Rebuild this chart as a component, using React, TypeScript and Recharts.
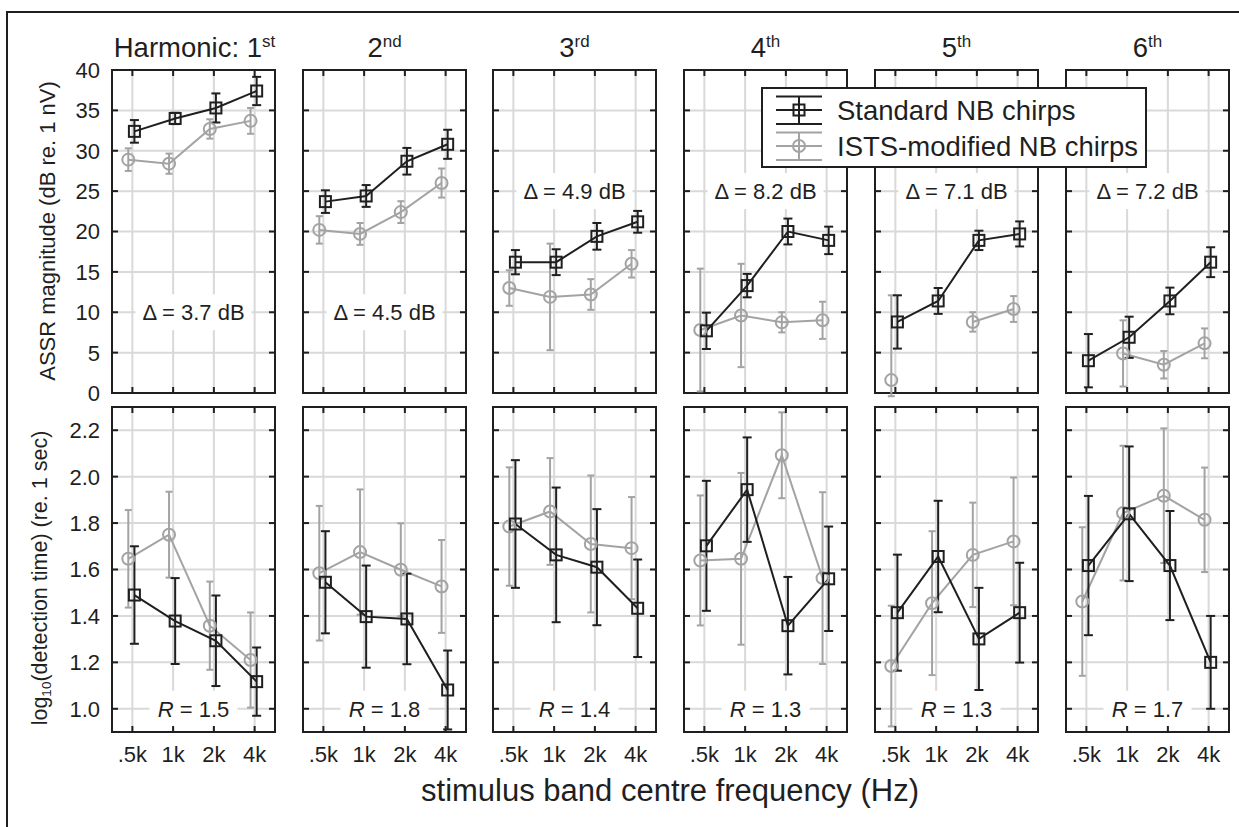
import React from 'react';
import { LineChart, Line, XAxis, YAxis, CartesianGrid, ErrorBar, ReferenceArea, ReferenceLine } from 'recharts';

// ---------- data ----------
const FREQ_LABELS = ['.5k', '1k', '2k', '4k'];
const HARMONIC_NUM = ['1', '2', '3', '4', '5', '6'];
const HARMONIC_SUFFIX = ['st', 'nd', 'rd', 'th', 'th', 'th'];
const SERIES_NAMES = ['Standard NB chirps', 'ISTS-modified NB chirps'];
const DELTA_LABELS = ['3.7', '4.5', '4.9', '8.2', '7.1', '7.2'];
const R_LABELS = ['1.5', '1.8', '1.4', '1.3', '1.3', '1.7'];
const DELTA_Y = [10, 10, 25, 25, 25, 25];
const AMP_TICKS = [0, 5, 10, 15, 20, 25, 30, 35, 40];
const DET_TICKS = [1.0, 1.2, 1.4, 1.6, 1.8, 2.0, 2.2];

// ASSR magnitude (dB re. 1 nV), one row per harmonic
const ampStd = [
  [32.4, 34.0, 35.3, 37.4],
  [23.7, 24.4, 28.7, 30.8],
  [16.2, 16.2, 19.4, 21.2],
  [7.7, 13.3, 20.0, 18.9],
  [8.8, 11.4, 18.9, 19.7],
  [4.0, 6.9, 11.4, 16.2],
];
const ampStdErr = [
  [1.4, 0.7, 1.8, 1.75],
  [1.4, 1.35, 1.65, 1.8],
  [1.5, 1.6, 1.65, 1.35],
  [2.25, 1.45, 1.6, 1.7],
  [3.3, 1.6, 1.2, 1.55],
  [3.3, 2.55, 1.65, 1.85],
];
const ampIsts = [
  [28.9, 28.4, 32.7, 33.7],
  [20.2, 19.7, 22.4, 26.0],
  [13.0, 11.9, 12.2, 16.0],
  [7.8, 9.6, 8.75, 9.0],
  [1.6, null, 8.8, 10.4],
  [null, 4.9, 3.5, 6.15],
];
// [lower, upper] where the bar is cut off by the panel edge
const ampIstsErr = [
  [1.4, 1.25, 1.2, 1.6],
  [1.7, 1.35, 1.35, 1.8],
  [2.2, 6.6, 1.9, 1.7],
  [7.6, 6.4, 1.25, 2.3],
  [[2.0, 10.5], null, 1.2, 1.6],
  [null, 4.1, 1.7, 1.85],
];

// log10(detection time)
const detStd = [
  [1.49, 1.378, 1.293, 1.117],
  [1.545, 1.397, 1.387, 1.081],
  [1.796, 1.663, 1.61, 1.433],
  [1.702, 1.944, 1.358, 1.56],
  [1.414, 1.656, 1.301, 1.414],
  [1.617, 1.84, 1.617, 1.2],
];
const detStdErr = [
  [0.21, 0.185, 0.195, 0.147],
  [0.22, 0.22, 0.195, 0.17],
  [0.275, 0.29, 0.25, 0.21],
  [0.28, 0.225, 0.21, 0.225],
  [0.25, 0.24, 0.22, 0.215],
  [0.3, 0.29, 0.235, 0.2],
];
const detIsts = [
  [1.646, 1.75, 1.358, 1.21],
  [1.584, 1.675, 1.599, 1.527],
  [1.785, 1.85, 1.71, 1.692],
  [1.639, 1.646, 2.092, 1.563],
  [1.184, 1.455, 1.663, 1.721],
  [1.462, 1.843, 1.918, 1.814],
];
const detIstsErr = [
  [0.21, 0.185, 0.19, 0.205],
  [0.29, 0.27, 0.2, 0.2],
  [0.255, 0.23, 0.295, 0.22],
  [0.28, 0.37, 0.185, 0.37],
  [0.26, 0.31, 0.225, 0.275],
  [0.32, 0.29, 0.29, 0.225],
];

// ---------- style / layout ----------
const FONT = '"Liberation Sans", Arial, Helvetica, sans-serif';
const INK = '#1f1f1f';
const GRAY = '#a3a3a3';
const GRID = '#d9d9d9';
const STD_DODGE = 0.05;
const ISTS_DODGE = -0.1;
const TICK_FS = 22;
const ANN_FS = 22;

const PANEL_LEFT = [112, 303, 493, 684, 875, 1066];
const PW = 163;
const ROW_TOP = [70, 407];
const ROW_H = [323, 325];
const YAXIS_W = 60;
const XAXIS_H = 30;
const MT = 20;
const MR = 10;
const MB = 10;

function buildSeries(vals: (number | null)[], errs: any[], offset: number) {
  return vals.map((v, i) => ({ x: i + offset, v, e: errs[i] }));
}

const squareDot = (p: any) => {
  const k = `sq-${p.index}`;
  if (p.cx == null || p.cy == null || p.value == null) return <g key={k} />;
  return <rect key={k} x={p.cx - 5.5} y={p.cy - 5.5} width={11} height={11} fill="none" stroke={INK} strokeWidth={2} />;
};
const circleDot = (p: any) => {
  const k = `ci-${p.index}`;
  if (p.cx == null || p.cy == null || p.value == null) return <g key={k} />;
  return <circle key={k} cx={p.cx} cy={p.cy} r={6} fill="none" stroke={GRAY} strokeWidth={2} />;
};

function Panel({ col, row }: { col: number; row: number }) {
  const isTop = row === 0;
  const plotH = ROW_H[row];
  const W = PW + YAXIS_W + MR;
  const H = plotH + MT + XAXIS_H + MB;
  const plotRight = YAXIS_W + PW;
  const domain: [number, number] = isTop ? [0, 40] : [0.9, 2.3];
  const ticks = isTop ? AMP_TICKS : DET_TICKS;
  const fmt = (v: number) => (isTop ? String(v) : v.toFixed(1));
  const std = isTop ? buildSeries(ampStd[col], ampStdErr[col], STD_DODGE) : buildSeries(detStd[col], detStdErr[col], STD_DODGE);
  const ists = isTop ? buildSeries(ampIsts[col], ampIstsErr[col], ISTS_DODGE) : buildSeries(detIsts[col], detIstsErr[col], ISTS_DODGE);
  const showY = col === 0;
  const showX = !isTop;

  const yTick = (p: any) => (
    <g key={`yt-${p.index}`}>
      <line x1={p.x} y1={p.y} x2={p.x + 6} y2={p.y} stroke={INK} strokeWidth={2} />
      <line x1={plotRight} y1={p.y} x2={plotRight - 6} y2={p.y} stroke={INK} strokeWidth={2} />
      {showY && (
        <text x={p.x - 12} y={p.y} dy="0.36em" textAnchor="end" fontFamily={FONT} fontSize={TICK_FS} fill={INK}>
          {fmt(p.payload.value)}
        </text>
      )}
    </g>
  );
  const xTick = (p: any) => (
    <g key={`xt-${p.index}`}>
      <line x1={p.x} y1={p.y} x2={p.x} y2={p.y - 6} stroke={INK} strokeWidth={2} />
      <line x1={p.x} y1={MT} x2={p.x} y2={MT + 6} stroke={INK} strokeWidth={2} />
      {showX && (
        <text x={p.x} y={p.y + 30} textAnchor="middle" fontFamily={FONT} fontSize={TICK_FS} fill={INK}>
          {FREQ_LABELS[p.index]}
        </text>
      )}
    </g>
  );

  const annLabel = (props: any) => {
    const vb = props.viewBox || {};
    const cx = vb.x + (vb.width || 0) / 2;
    const cy = vb.y;
    const boxW = isTop ? 116 : 88;
    return (
      <g>
        <rect x={cx - boxW / 2} y={cy - 18} width={boxW} height={36} fill="#ffffff" />
        <text x={cx} y={cy} dy="0.36em" textAnchor="middle" fontFamily={FONT} fontSize={ANN_FS} fill={INK}>
          {isTop ? (
            `\u0394 = ${DELTA_LABELS[col]} dB`
          ) : (
            <>
              <tspan fontStyle="italic">R</tspan>
              <tspan>{` = ${R_LABELS[col]}`}</tspan>
            </>
          )}
        </text>
      </g>
    );
  };

  return (
    <div style={{ position: 'absolute', left: PANEL_LEFT[col] - YAXIS_W, top: ROW_TOP[row] - MT }}>
      <LineChart width={W} height={H} margin={{ top: MT, right: MR, bottom: MB, left: 0 }}>
        <CartesianGrid stroke={GRID} strokeWidth={2} />
        <XAxis
          dataKey="x"
          type="number"
          domain={[-0.5, 3.5]}
          ticks={[0, 1, 2, 3]}
          allowDataOverflow
          interval={0}
          height={XAXIS_H}
          axisLine={false}
          tickLine={false}
          tickSize={0}
          tickMargin={0}
          tick={xTick}
        />
        <YAxis
          type="number"
          domain={domain}
          ticks={ticks}
          allowDataOverflow
          interval={0}
          width={YAXIS_W}
          axisLine={false}
          tickLine={false}
          tickSize={0}
          tickMargin={0}
          tick={yTick}
        />
        <ReferenceLine y={isTop ? DELTA_Y[col] : 1.0} stroke="none" label={annLabel} />
        <Line
          data={ists}
          dataKey="v"
          name={SERIES_NAMES[1]}
          stroke={GRAY}
          strokeWidth={2}
          dot={circleDot}
          activeDot={false}
          isAnimationActive={false}
          connectNulls={false}
        >
          <ErrorBar dataKey="e" width={3.5} stroke={GRAY} strokeWidth={2} direction="y" />
        </Line>
        <Line
          data={std}
          dataKey="v"
          name={SERIES_NAMES[0]}
          stroke={INK}
          strokeWidth={2}
          dot={squareDot}
          activeDot={false}
          isAnimationActive={false}
          connectNulls={false}
        >
          <ErrorBar dataKey="e" width={4.5} stroke={INK} strokeWidth={2} direction="y" />
        </Line>
        <ReferenceArea x1={-0.5} x2={3.5} y1={domain[0]} y2={domain[1]} fill="none" fillOpacity={0} stroke={INK} strokeWidth={2} />
      </LineChart>
    </div>
  );
}

function Overlay() {
  const legendX = 762;
  const legendY = 88;
  const items = [
    { name: SERIES_NAMES[0], color: INK, shape: 'square', cy: 110 },
    { name: SERIES_NAMES[1], color: GRAY, shape: 'circle', cy: 146 },
  ];
  return (
    <svg width={1239} height={827} style={{ position: 'absolute', left: 0, top: 0, pointerEvents: 'none' }}>
      {/* outer frame (left and top edges) */}
      <line x1={7} y1={12} x2={7} y2={827} stroke={INK} strokeWidth={2} />
      <line x1={6} y1={12} x2={1239} y2={12} stroke={INK} strokeWidth={2} />

      {/* column titles */}
      {HARMONIC_NUM.map((n, i) => (
        <text key={`t${i}`} x={PANEL_LEFT[i] + PW / 2 + (i === 0 ? 1 : 0)} y={57} textAnchor="middle" fontFamily={FONT} fontSize={27.5} fill={INK}>
          {i === 0 ? `Harmonic: ${n}` : n}
          <tspan fontSize={17} dy={-10}>{HARMONIC_SUFFIX[i]}</tspan>
        </text>
      ))}

      {/* y-axis titles */}
      <text x={55} y={231} transform="rotate(-90 55 231)" textAnchor="middle" fontFamily={FONT} fontSize={22} fill={INK}>
        ASSR magnitude (dB re. 1 nV)
      </text>
      <text x={47} y={578} transform="rotate(-90 47 578)" textAnchor="middle" fontFamily={FONT} fontSize={21.5} fill={INK}>
        log<tspan fontSize={13.5} dy={4}>10</tspan>
        <tspan dy={-4}>(detection time) (re. 1 sec)</tspan>
      </text>

      {/* x-axis title */}
      <text x={670} y={801} textAnchor="middle" fontFamily={FONT} fontSize={31} fill={INK}>
        stimulus band centre frequency (Hz)
      </text>

      {/* legend */}
      <rect x={legendX} y={legendY} width={384} height={79} fill="#ffffff" stroke={INK} strokeWidth={2} />
      {items.map((it, i) => (
        <g key={`lg${i}`}>
          <line x1={776} y1={it.cy - 13.5} x2={822} y2={it.cy - 13.5} stroke={it.color} strokeWidth={2} />
          <line x1={776} y1={it.cy} x2={822} y2={it.cy} stroke={it.color} strokeWidth={2} />
          <line x1={776} y1={it.cy + 14} x2={822} y2={it.cy + 14} stroke={it.color} strokeWidth={2} />
          <line x1={799} y1={it.cy - 13.5} x2={799} y2={it.cy + 14} stroke={it.color} strokeWidth={2} />
          {it.shape === 'square' ? (
            <rect x={793.5} y={it.cy - 5.5} width={11} height={11} fill="none" stroke={it.color} strokeWidth={2} />
          ) : (
            <circle cx={799} cy={it.cy} r={6} fill="none" stroke={it.color} strokeWidth={2} />
          )}
          <text x={837} y={it.cy + 10} fontFamily={FONT} fontSize={27.5} fill={INK}>
            {it.name}
          </text>
        </g>
      ))}
    </svg>
  );
}

export default function App() {
  return (
    <div style={{ position: 'absolute', left: 0, top: 0, width: 1239, height: 827, background: '#ffffff', overflow: 'hidden' }}>
      {[0, 1].map((row) => HARMONIC_NUM.map((_, col) => <Panel key={`p${row}-${col}`} col={col} row={row} />))}
      <Overlay />
    </div>
  );
}
